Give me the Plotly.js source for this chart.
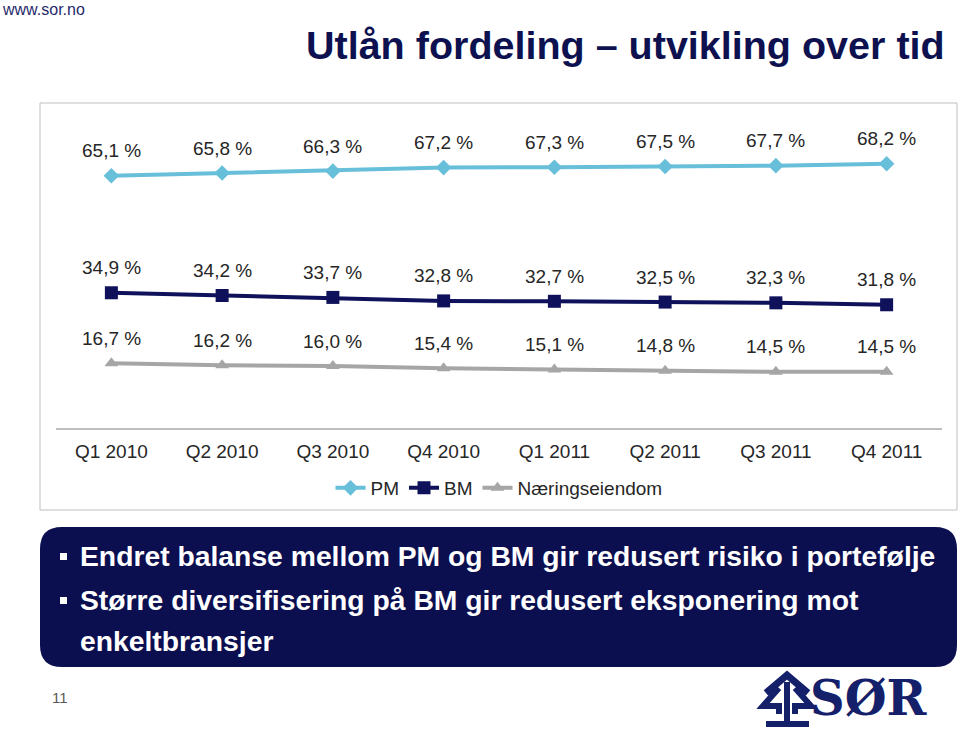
<!DOCTYPE html>
<html>
<head>
<meta charset="utf-8">
<script src="https://cdn.plot.ly/plotly-3.0.1.min.js"></script>
<style>
  html, body { margin: 0; padding: 0; background: #ffffff; }
  #chart { width: 960px; height: 729px; }
</style>
</head>
<body>
<div id="chart"></div>
<script>
// ---- data ----
const categories = ['Q1 2010', 'Q2 2010', 'Q3 2010', 'Q4 2010', 'Q1 2011', 'Q2 2011', 'Q3 2011', 'Q4 2011'];
const pmValues = [65.1, 65.8, 66.3, 67.2, 67.3, 67.5, 67.7, 68.2];
const bmValues = [34.9, 34.2, 33.7, 32.8, 32.7, 32.5, 32.3, 31.8];
const naeringValues = [16.7, 16.2, 16.0, 15.4, 15.1, 14.8, 14.5, 14.5];
const seriesNames = ['PM', 'BM', 'Næringseiendom'];
const titleText = 'Utlån fordeling – utvikling over tid';
const bulletLines = [
  'Endret balanse mellom PM og BM gir redusert risiko i portefølje',
  'Større diversifisering på BM gir redusert eksponering mot',
  'enkeltbransjer'
];

// ---- layout helpers (pixel -> paper) ----
const W = 960, H = 729;
const M = { l: 56, r: 18, t: 118, b: 301 };
const PW = W - M.l - M.r, PH = H - M.t - M.b;
const px = x => (x - M.l) / PW;
const py = y => (H - M.b - y) / PH;

const FONT = 'Liberation Sans, Arial, sans-serif';
const NAVY = '#0D1150';
const colors = ['#68BFDA', '#0F115A', '#A6A6A6'];
const symbols = ['diamond', 'square', 'triangle-up'];
const sizes = [12, 13, 12];
const allSeries = [pmValues, bmValues, naeringValues];

const traces = allSeries.map((vals, i) => ({
  type: 'scatter',
  mode: 'lines+markers',
  name: seriesNames[i],
  x: categories,
  y: vals,
  line: { color: colors[i], width: 4 },
  marker: { color: colors[i], symbol: symbols[i], size: sizes[i] },
  hoverinfo: 'skip'
}));

const fmt = v => v.toFixed(1).replace('.', ',') + ' %';

const annotations = [];
allSeries.forEach(vals => {
  vals.forEach((v, j) => {
    annotations.push({
      x: categories[j], y: v, xref: 'x', yref: 'y',
      text: fmt(v), showarrow: false, yshift: 25,
      xanchor: 'center', yanchor: 'middle',
      font: { family: FONT, size: 19, color: '#262626' }
    });
  });
});

// title
annotations.push({
  xref: 'paper', yref: 'paper', x: px(947), y: py(45),
  xanchor: 'right', yanchor: 'middle', showarrow: false,
  text: '<b>' + titleText + '</b>',
  font: { family: FONT, size: 39.5, color: NAVY }
});
// url
annotations.push({
  xref: 'paper', yref: 'paper', x: px(1), y: py(0),
  xanchor: 'left', yanchor: 'top', showarrow: false, borderpad: 0,
  text: 'www.sor.no',
  font: { family: FONT, size: 16, color: '#1F2A6B' }
});
// page number
annotations.push({
  xref: 'paper', yref: 'paper', x: px(60), y: py(697),
  xanchor: 'center', yanchor: 'middle', showarrow: false,
  text: '11',
  font: { family: FONT, size: 15, color: '#595959' }
});
// bullet lines
const lineY = [556, 600, 641];
bulletLines.forEach((t, i) => {
  annotations.push({
    xref: 'paper', yref: 'paper', x: px(78), y: py(lineY[i]),
    xanchor: 'left', yanchor: 'middle', showarrow: false,
    text: '<b>' + t + '</b>',
    font: { family: FONT, size: 28.3, color: '#ffffff' }
  });
});
// logo text
annotations.push({
  xref: 'paper', yref: 'paper', x: px(808), y: py(698),
  xanchor: 'left', yanchor: 'middle', showarrow: false,
  text: '<b>SØR</b>',
  font: { family: 'DejaVu Serif, Liberation Serif, serif', size: 48, color: '#15206B' }
});

// shapes
function roundRect(x0, y0, x1, y1, r) {
  const rx = r / PW, ry = r / PH;
  const X0 = px(x0), X1 = px(x1), Yt = py(y0), Yb = py(y1);
  return `M ${X0 + rx},${Yt} L ${X1 - rx},${Yt} Q ${X1},${Yt} ${X1},${Yt - ry} ` +
         `L ${X1},${Yb + ry} Q ${X1},${Yb} ${X1 - rx},${Yb} L ${X0 + rx},${Yb} ` +
         `Q ${X0},${Yb} ${X0},${Yb + ry} L ${X0},${Yt - ry} Q ${X0},${Yt} ${X0 + rx},${Yt} Z`;
}
function poly(pts) {
  return pts.map((p, i) => (i ? 'L ' : 'M ') + px(p[0]) + ',' + py(p[1])).join(' ');
}
const LOGO = '#15206B';
const shapes = [
  // chart frame
  { type: 'rect', xref: 'paper', yref: 'paper', x0: px(40), x1: px(957), y0: py(510), y1: py(103),
    line: { color: '#BFBFBF', width: 1 }, fillcolor: 'rgba(0,0,0,0)', layer: 'below' },
  // text box
  { type: 'path', xref: 'paper', yref: 'paper', path: roundRect(40, 527, 957, 667, 22),
    fillcolor: '#0C0F4F', line: { width: 0 } },
  // bullets
  { type: 'rect', xref: 'paper', yref: 'paper', x0: px(60), x1: px(67), y0: py(560), y1: py(553),
    fillcolor: '#ffffff', line: { width: 0 } },
  { type: 'rect', xref: 'paper', yref: 'paper', x0: px(60), x1: px(67), y0: py(604), y1: py(597),
    fillcolor: '#ffffff', line: { width: 0 } },
  // logo symbol (approximation)
  { type: 'path', xref: 'paper', yref: 'paper', path: poly([[766, 693], [787, 675], [808, 693]]),
    line: { color: LOGO, width: 7 } },
  { type: 'path', xref: 'paper', yref: 'paper', path: poly([[787, 682], [787, 722]]),
    line: { color: LOGO, width: 6 } },
  { type: 'path', xref: 'paper', yref: 'paper', path: poly([[779, 688], [763, 706], [779, 706], [779, 714]]),
    line: { color: LOGO, width: 6 } },
  { type: 'path', xref: 'paper', yref: 'paper', path: poly([[795, 688], [811, 706], [795, 706], [795, 714]]),
    line: { color: LOGO, width: 6 } },
  { type: 'path', xref: 'paper', yref: 'paper', path: poly([[766, 724], [809, 724]]),
    line: { color: LOGO, width: 6 } }
];

const layout = {
  width: W, height: H,
  margin: M,
  paper_bgcolor: '#ffffff', plot_bgcolor: 'rgba(0,0,0,0)',
  showlegend: true,
  legend: {
    orientation: 'h', x: 0.5, xanchor: 'center', y: py(488), yanchor: 'middle',
    font: { family: FONT, size: 19, color: '#262626' },
    bgcolor: 'rgba(0,0,0,0)', itemwidth: 30, tracegroupgap: 0
  },
  xaxis: {
    type: 'category', range: [-0.5, 7.5], showgrid: false, zeroline: false,
    showline: true, linecolor: '#BFBFBF', linewidth: 1.5,
    ticks: 'outside', ticklen: 6, tickcolor: 'rgba(0,0,0,0)',
    tickfont: { family: FONT, size: 19, color: '#262626' }, fixedrange: true
  },
  yaxis: {
    range: [0, 80], visible: false, showgrid: false, zeroline: false, fixedrange: true
  },
  annotations: annotations,
  shapes: shapes
};

Plotly.newPlot('chart', traces, layout, { displayModeBar: false, staticPlot: true });
</script>
</body>
</html>
